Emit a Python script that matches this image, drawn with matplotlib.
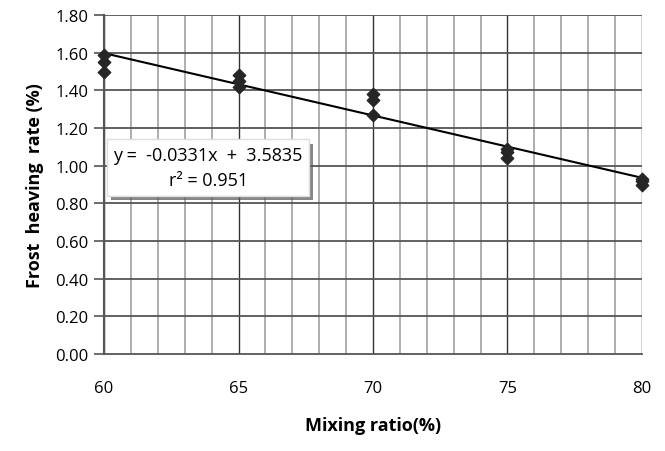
import matplotlib
matplotlib.use("Agg")
import matplotlib.pyplot as plt
import matplotlib.patheffects as pe
import numpy as np

# mixing ratio (%) and measured frost heaving rate (%)
ratio = [60, 60, 60, 65, 65, 65, 70, 70, 70, 75, 75, 75, 80, 80, 80]
heave = [1.59, 1.55, 1.50, 1.48, 1.45, 1.42, 1.38, 1.35, 1.27,
         1.09, 1.07, 1.04, 0.93, 0.92, 0.90]

slope = -0.0331
intercept = 3.5835
r2 = 0.951

plt.rcParams['font.family'] = ['Open Sans', 'DejaVu Sans']

fig = plt.figure(figsize=(6.65, 4.52), dpi=100)
ax = fig.add_axes([0.1564, 0.2146, 0.809, 0.750])

# grid
for x in range(60, 81):
    if x % 5 == 0:
        ax.axvline(x, color='#333333', lw=1.0, zorder=1)
    else:
        ax.axvline(x, color='#a8a8a8', lw=1.3, zorder=1)
for y in np.arange(0.2, 1.81, 0.2):
    ax.axhline(y, color='#555555', lw=1.3, zorder=1)

xs = np.array([60, 80])
ax.plot(xs, slope * xs + intercept, color='black', lw=1.5, zorder=3)
ax.scatter(ratio, heave, marker='D', s=40, color='#262626', zorder=4, clip_on=False)

ax.set_xlim(60, 80)
ax.set_ylim(0, 1.80)
ax.set_xticks([60, 65, 70, 75, 80])
ax.set_yticks(np.arange(0, 1.81, 0.2))
ax.set_yticklabels(['%.2f' % v for v in np.arange(0, 1.81, 0.2)])
ax.tick_params(axis='y', length=7, width=1.2, color='#555555', labelsize=12, pad=4)
ax.tick_params(axis='x', length=0, labelsize=12, pad=19)

for s in ['top', 'right']:
    ax.spines[s].set_visible(False)
ax.spines['left'].set_color('#555555')
ax.spines['left'].set_linewidth(1.5)
ax.spines['bottom'].set_color('#555555')
ax.spines['bottom'].set_linewidth(1.3)

ax.set_ylabel('Frost  heaving  rate (%)', fontsize=13, fontweight='bold', labelpad=8)
ax.set_xlabel('Mixing ratio(%)', fontsize=13, fontweight='bold', labelpad=14)

t = ax.text(63.87, 0.99, 'y =  -0.0331x  +  3.5835\nr² = 0.951', ha='center', va='center',
            fontsize=13, linespacing=1.55, zorder=5,
            bbox=dict(boxstyle='square,pad=0.35', facecolor='white', edgecolor='#dddddd', lw=1))
t.get_bbox_patch().set_path_effects([pe.withSimplePatchShadow(offset=(3, -3), shadow_rgbFace='#555555', alpha=0.7)])

fig.savefig('out.png', dpi=100)
